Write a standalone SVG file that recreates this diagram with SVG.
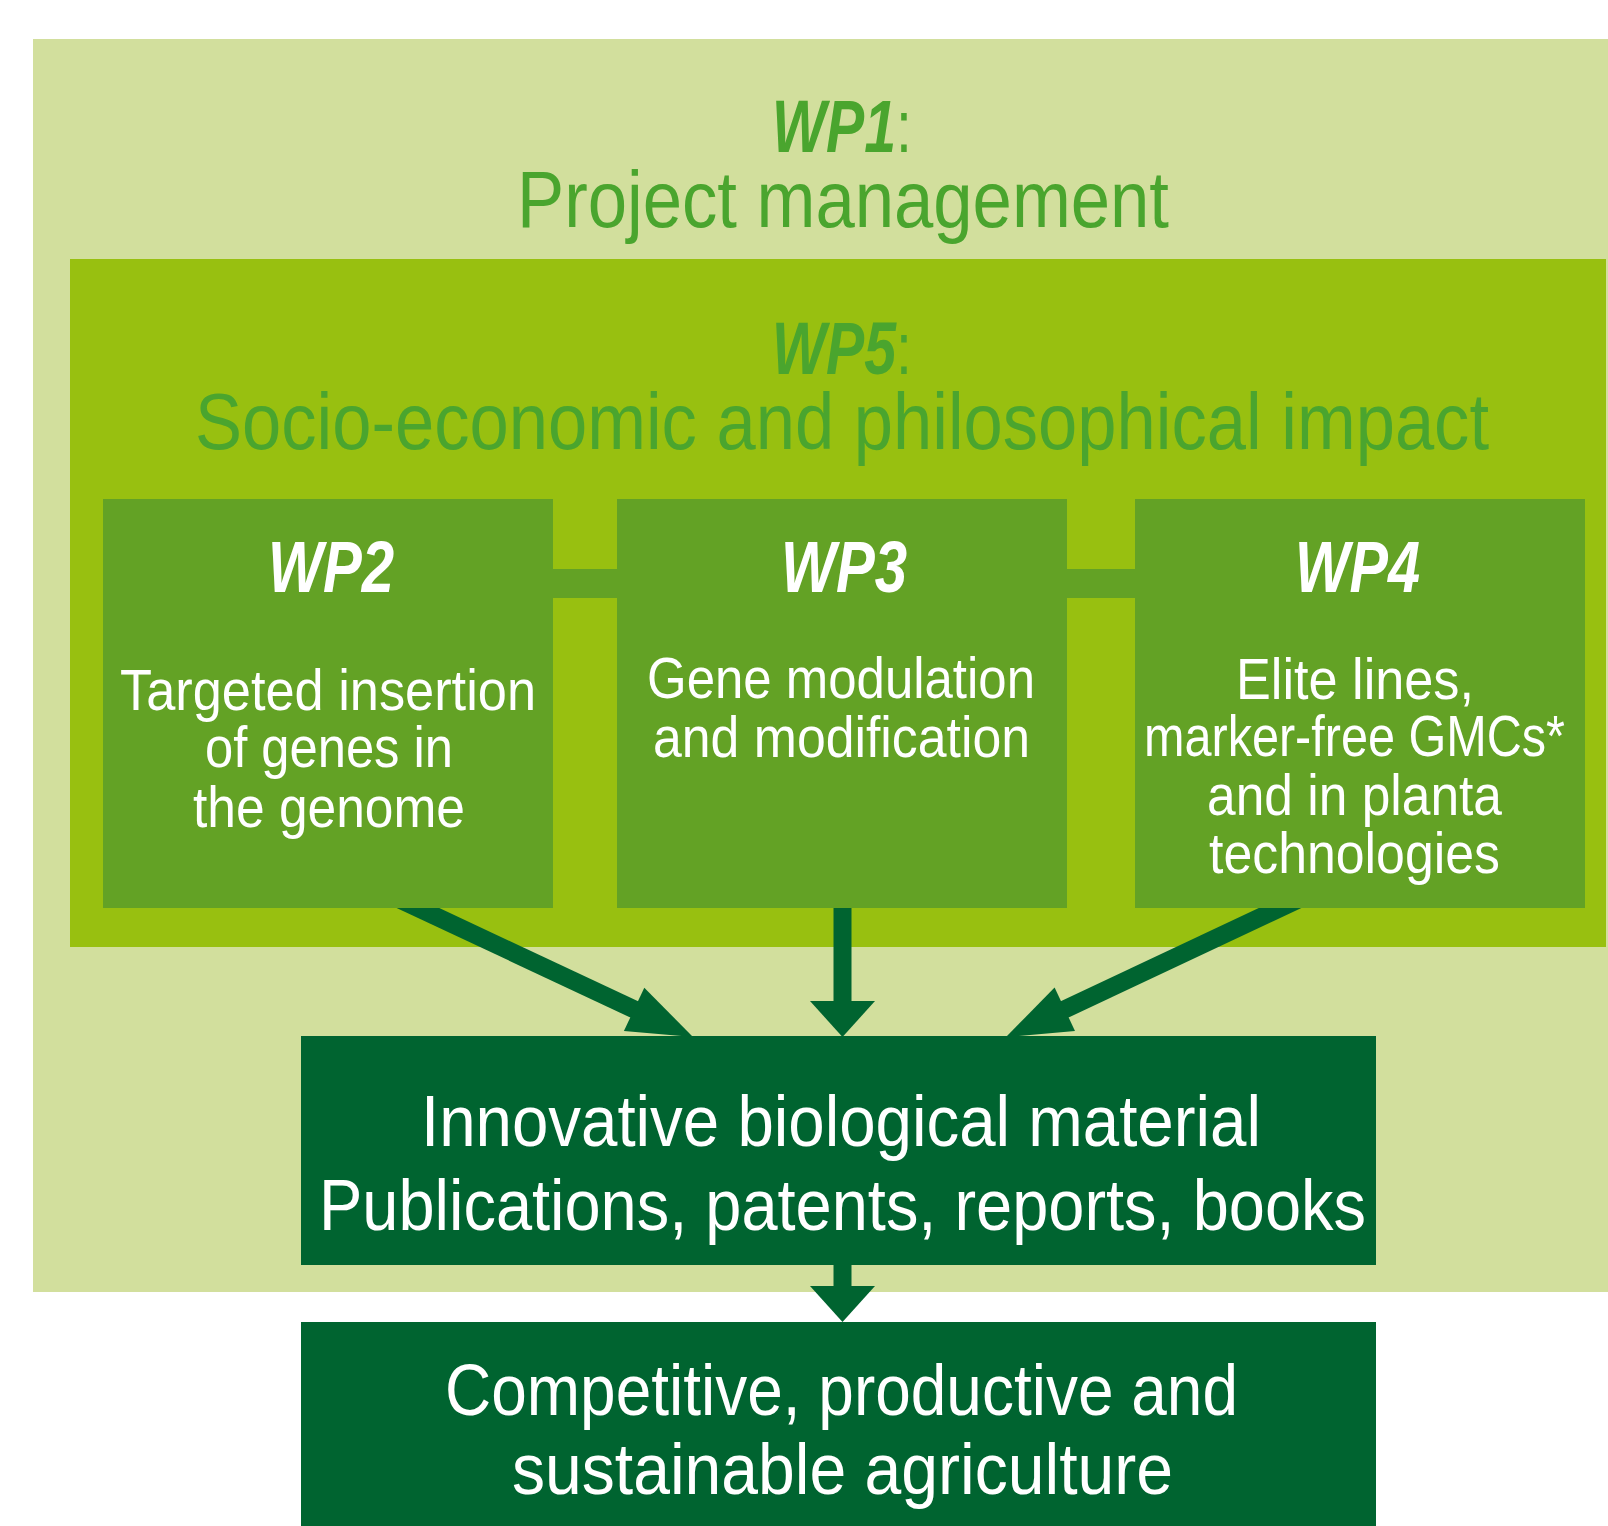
<svg xmlns="http://www.w3.org/2000/svg" width="1608" height="1526" viewBox="0 0 1608 1526">
<style>
.t{font-family:"Liberation Sans",Arial,sans-serif;}
.hd{font-weight:bold;font-style:italic;}
.rg{font-weight:normal;font-style:normal;}
.ttl{fill:#4aa52e;}
.wt{fill:#ffffff;}
.bg1{fill:#d2df9d;}
.bg5{fill:#98c010;}
.box{fill:#63a225;}
.dark{fill:#006430;}
.shaft{stroke:#006430;stroke-width:18;fill:none;}
.head{fill:#006430;}
</style>
<rect x="0" y="0" width="1608" height="1526" fill="#ffffff"/>
<g id="wp1">
<rect class="bg1" x="33" y="39" width="1575" height="1253"/>
<text class="t ttl" x="772" y="151.7" font-size="74" textLength="140" lengthAdjust="spacingAndGlyphs"><tspan class="hd">WP1</tspan><tspan class="rg">:</tspan></text>
<text class="t ttl" x="517" y="226.7" font-size="79" textLength="652" lengthAdjust="spacingAndGlyphs">Project management</text>
</g>
<g id="wp5">
<rect class="bg5" x="70" y="259" width="1536" height="688"/>
<text class="t ttl" x="772" y="374" font-size="74" textLength="140" lengthAdjust="spacingAndGlyphs"><tspan class="hd">WP5</tspan><tspan class="rg">:</tspan></text>
<text class="t ttl" x="195" y="449.3" font-size="79" textLength="1294" lengthAdjust="spacingAndGlyphs">Socio-economic and philosophical impact</text>
</g>
<g id="connectors">
<rect class="box" x="552" y="569" width="66" height="29"/>
<rect class="box" x="1066" y="569" width="70" height="29"/>
<line class="shaft" x1="399.9" y1="899.5" x2="635.9" y2="1010.2"/>
<polygon class="head" points="644.3,987.7 693,1037 623.9,1031.1"/>
<line class="shaft" x1="842.5" y1="900" x2="842.5" y2="1003"/>
<polygon class="head" points="810,1001 875,1001 842.5,1037"/>
<line class="shaft" x1="1298.1" y1="899.5" x2="1063" y2="1010.2"/>
<polygon class="head" points="1054.6,987.6 1006,1037 1075,1031"/>
<line class="shaft" x1="842.5" y1="1260" x2="842.5" y2="1288"/>
<polygon class="head" points="810,1286 875,1286 842.5,1322"/>
</g>
<g id="wp2">
<rect class="box" x="103" y="499" width="450" height="409"/>
<text class="t hd wt" x="268" y="592" font-size="73" textLength="126" lengthAdjust="spacingAndGlyphs">WP2</text>
<text class="t wt" x="120" y="710" font-size="57" textLength="416" lengthAdjust="spacingAndGlyphs">Targeted insertion</text>
<text class="t wt" x="205" y="767" font-size="57" textLength="248" lengthAdjust="spacingAndGlyphs">of genes in</text>
<text class="t wt" x="193" y="827" font-size="57" textLength="272" lengthAdjust="spacingAndGlyphs">the genome</text>
</g>
<g id="wp3">
<rect class="box" x="617" y="499" width="450" height="409"/>
<text class="t hd wt" x="781" y="592" font-size="73" textLength="126" lengthAdjust="spacingAndGlyphs">WP3</text>
<text class="t wt" x="647" y="697.5" font-size="57" textLength="388" lengthAdjust="spacingAndGlyphs">Gene modulation</text>
<text class="t wt" x="653" y="757" font-size="57" textLength="377" lengthAdjust="spacingAndGlyphs">and modification</text>
</g>
<g id="wp4">
<rect class="box" x="1135" y="499" width="450" height="409"/>
<text class="t hd wt" x="1295" y="592" font-size="73" textLength="125" lengthAdjust="spacingAndGlyphs">WP4</text>
<text class="t wt" x="1236" y="698.5" font-size="57" textLength="238" lengthAdjust="spacingAndGlyphs">Elite lines,</text>
<text class="t wt" x="1144" y="756" font-size="57" textLength="421" lengthAdjust="spacingAndGlyphs">marker-free GMCs*</text>
<text class="t wt" x="1207" y="815" font-size="57" textLength="295" lengthAdjust="spacingAndGlyphs">and in planta</text>
<text class="t wt" x="1209" y="873" font-size="57" textLength="291" lengthAdjust="spacingAndGlyphs">technologies</text>
</g>
<g id="outputs">
<rect class="dark" x="301" y="1036" width="1075" height="229"/>
<text class="t wt" x="421" y="1146" font-size="73" textLength="840" lengthAdjust="spacingAndGlyphs">Innovative biological material</text>
<text class="t wt" x="319" y="1230" font-size="73" textLength="1047" lengthAdjust="spacingAndGlyphs">Publications, patents, reports, books</text>
</g>
<g id="agriculture">
<rect class="dark" x="301" y="1322" width="1075" height="204"/>
<text class="t wt" x="445" y="1415" font-size="73" textLength="793" lengthAdjust="spacingAndGlyphs">Competitive, productive and</text>
<text class="t wt" x="512" y="1493.5" font-size="73" textLength="661" lengthAdjust="spacingAndGlyphs">sustainable agriculture</text>
</g>
</svg>
